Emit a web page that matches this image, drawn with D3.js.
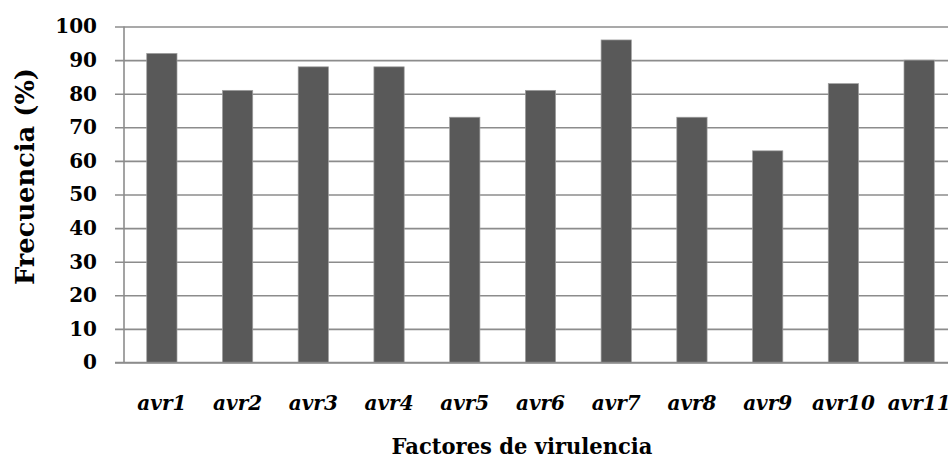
<!DOCTYPE html>
<html>
<head>
<meta charset="utf-8">
<script src="https://cdn.jsdelivr.net/npm/d3@7"></script>
<style>
  body { margin: 0; background: #fff; }
  svg { display: block; }
  text { font-family: "DejaVu Serif", serif; font-weight: bold; fill: #000; }
</style>
</head>
<body>
<div id="container"></div>
<script>
//### DATA ###
const factors = [ 'avr1', 'avr2', 'avr3', 'avr4', 'avr5', 'avr6', 'avr7', 'avr8', 'avr9', 'avr10', 'avr11' ];
const frequencies = [ 92, 81, 88, 88, 73, 81, 96, 73, 63, 83, 90 ];
const yTicks = [ 0, 10, 20, 30, 40, 50, 60, 70, 80, 90, 100 ];

//### LAYOUT ###
const width = 948;
const height = 459;
const plotLeft = 124;
const plotRight = 957;   //--- the last band runs past the picture edge
const plotTop = 26.5;
const plotBottom = 362.5;
const gridColor = '#8c8c8c';
const barColor = '#595959';

const svg = d3.select( '#container' )
  .append( 'svg' )
  .attr( 'width', width )
  .attr( 'height', height );

//_____ SCALES _____
const x = d3.scaleBand()
  .domain( factors )
  .range( [ plotLeft, plotRight ] )
  .paddingInner( 0.6 )
  .paddingOuter( 0.3 );

const y = d3.scaleLinear()
  .domain( [ 0, 100 ] )
  .range( [ plotBottom, plotTop ] );

//_____ GRIDLINES + Y AXIS _____
const yAxis = d3.axisLeft( y )
  .tickValues( yTicks )
  .tickSize( -( width - plotLeft ) )
  .tickPadding( 18 );

const yAxisGroup = svg.append( 'g' )
  .attr( 'transform', `translate(${plotLeft},0)` )
  .call( yAxis );

yAxisGroup.select( '.domain' ).remove();
yAxisGroup.selectAll( '.tick line' )
  .attr( 'x2', width - plotLeft )
  .attr( 'x1', -9 )
  .attr( 'stroke', gridColor )
  .attr( 'stroke-width', 1.6 );
yAxisGroup.selectAll( '.tick text' )
  .attr( 'x', -27 )
  .style( 'font-size', '20px' )
  .style( 'font-family', '"DejaVu Serif", serif' )
  .style( 'font-weight', 'bold' )
  .attr( 'fill', '#000' );

//>>> vertical axis line
svg.append( 'line' )
  .attr( 'x1', plotLeft ).attr( 'x2', plotLeft )
  .attr( 'y1', y( 100 ) ).attr( 'y2', y( 0 ) )
  .attr( 'stroke', gridColor )
  .attr( 'stroke-width', 1.6 );

//_____ BARS _____
svg.selectAll( 'rect.bar' )
  .data( factors.map( ( f, i ) => ( { factor: f, value: frequencies[ i ] } ) ) )
  .enter()
  .append( 'rect' )
  .attr( 'class', 'bar' )
  .attr( 'x', d => x( d.factor ) )
  .attr( 'width', x.bandwidth() )
  .attr( 'y', d => y( d.value ) )
  .attr( 'height', d => y( 0 ) - y( d.value ) )
  .attr( 'fill', barColor )
  .attr( 'stroke', '#a0a0a0' )
  .attr( 'stroke-width', 0.7 );

//>>> baseline drawn over the bars
svg.append( 'line' )
  .attr( 'x1', plotLeft - 9 ).attr( 'x2', width )
  .attr( 'y1', y( 0 ) ).attr( 'y2', y( 0 ) )
  .attr( 'stroke', gridColor )
  .attr( 'stroke-width', 1.6 );

//_____ X LABELS _____
svg.selectAll( 'text.xlabel' )
  .data( factors )
  .enter()
  .append( 'text' )
  .attr( 'class', 'xlabel' )
  .attr( 'x', d => x( d ) + x.bandwidth() / 2 )
  .attr( 'y', 410 )
  .attr( 'text-anchor', 'middle' )
  .style( 'font-size', '20px' )
  .style( 'font-style', 'italic' )
  .text( d => d );

//_____ AXIS TITLES _____
svg.append( 'text' )
  .attr( 'x', 522 )
  .attr( 'y', 454 )
  .attr( 'text-anchor', 'middle' )
  .attr( 'textLength', 261 )
  .attr( 'lengthAdjust', 'spacingAndGlyphs' )
  .style( 'font-size', '22px' )
  .text( 'Factores de virulencia' );

svg.append( 'text' )
  .attr( 'transform', 'translate(34,176.5) rotate(-90)' )
  .attr( 'text-anchor', 'middle' )
  .attr( 'textLength', 217 )
  .attr( 'lengthAdjust', 'spacingAndGlyphs' )
  .style( 'font-size', '26px' )
  .text( 'Frecuencia (%)' );
</script>
</body>
</html>
